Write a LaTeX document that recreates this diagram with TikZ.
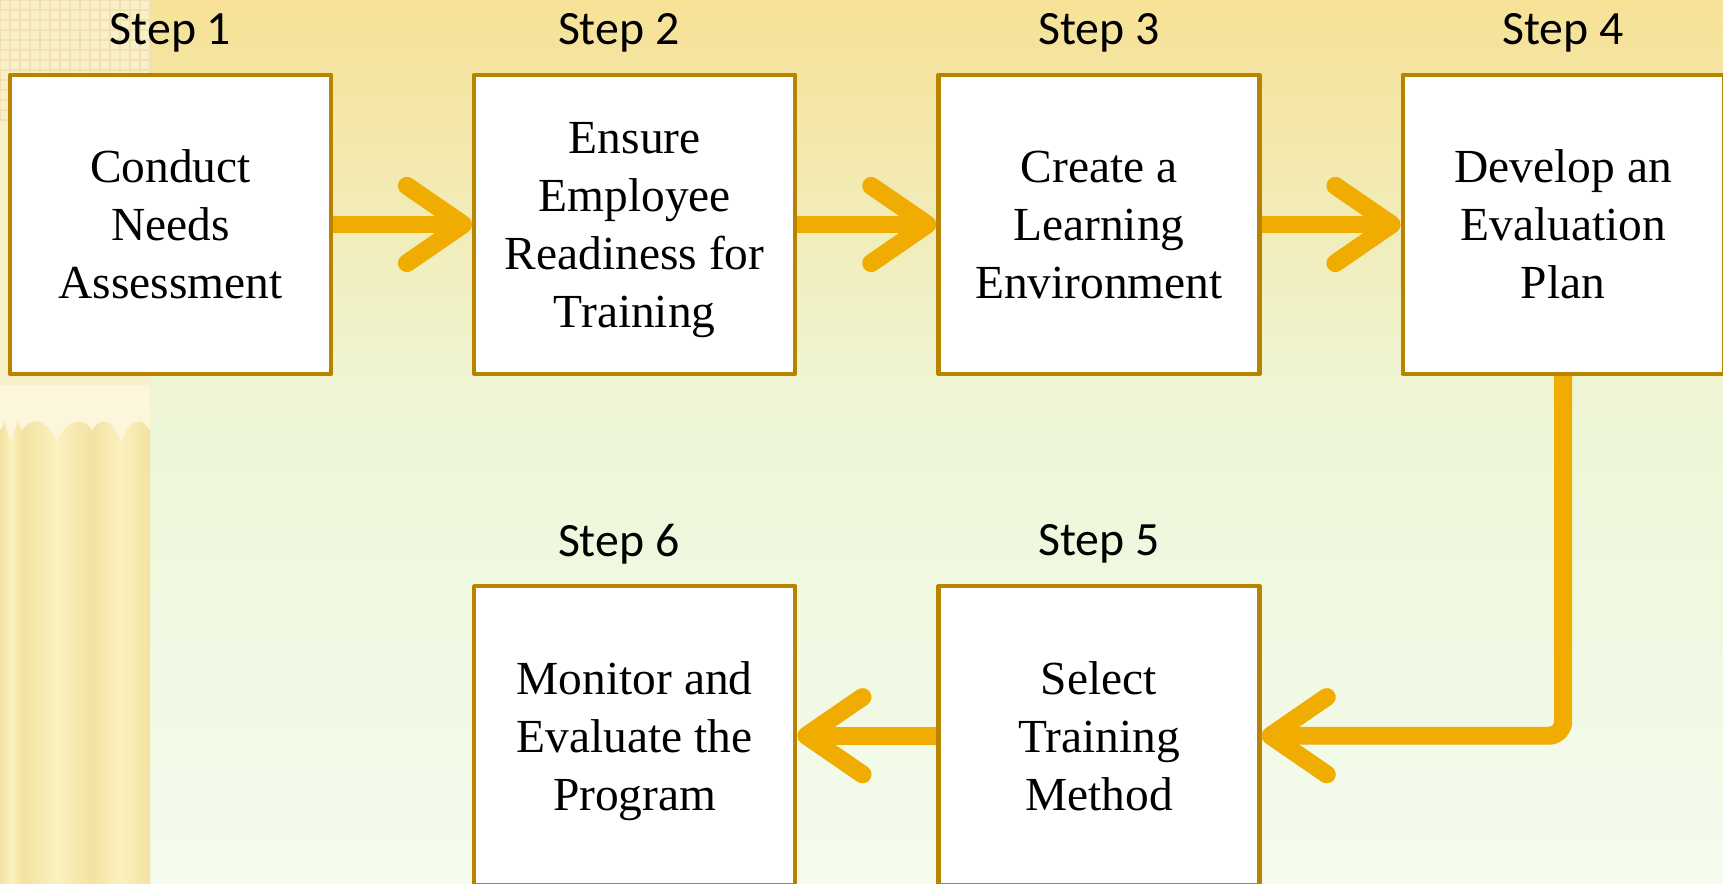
\documentclass[tikz,border=0pt]{standalone}
\usepackage{fontspec}
\setmainfont{Liberation Serif}
\newfontfamily\stepfont{Carlito}
\usetikzlibrary{positioning,arrows.meta}
\definecolor{boxline}{RGB}{184,132,0}
\definecolor{arrowcol}{RGB}{240,172,0}
\definecolor{bgtop}{RGB}{246,225,150}
\definecolor{bgmid}{RGB}{238,246,216}
\definecolor{bgbot}{RGB}{243,251,238}
\definecolor{stripbg}{RGB}{249,239,200}
\definecolor{gridcol}{RGB}{240,225,175}
\definecolor{pencil}{RGB}{243,226,160}
\definecolor{pencillight}{RGB}{251,241,192}
\definecolor{pencilwood}{RGB}{252,246,220}
\begin{document}
\begin{tikzpicture}[line join=round, >={Straight Barb[length=16pt,width=22pt,round]},
    stepbox/.style={draw=boxline, line width=1.2pt, fill=white, minimum width=3.21cm, minimum height=2.99cm,
        align=center, inner sep=0pt, text depth=0pt, font=\fontsize{13.5}{16.5}\selectfont},
    steplabel/.style={font=\stepfont\fontsize{13.6}{16}\selectfont},
    flow/.style={draw=arrowcol, line width=5.1pt, ->}]
    \def\W{17.23}\def\H{8.84}
    \useasboundingbox (0,0) rectangle (\W,-\H);
    \shade[top color=bgtop, bottom color=bgmid] (0,0) rectangle (\W,-4.2);
    \shade[top color=bgmid, bottom color=bgbot] (0,-4.2) rectangle (\W,-\H);
    \fill[stripbg] (0,0) rectangle (1.5,-4.1);
    \draw[gridcol, line width=0.3pt] (0,-1.2) grid[step=1mm] (1.5,0);
    \foreach \xa/\xb in {0/0.22,0.22/0.92,0.92/1.5}{
        \shade[left color=pencil, right color=pencil, middle color=pencillight] (\xa,-3.95) rectangle (\xb,-\H);
        \fill[pencilwood] (\xa,-3.85) -- (\xb,-3.85) -- (\xb,-4.3)
            .. controls ({\xb-0.1},-4.15) and ({(\xa+\xb)/2+0.1},-4.2) .. ({(\xa+\xb)/2},-4.4)
            .. controls ({(\xa+\xb)/2-0.1},-4.2) and ({\xa+0.1},-4.15) .. (\xa,-4.3) -- cycle;
    }
    \node[stepbox] (s1) at (1.705,-2.245) {Conduct\\Needs\\Assessment};
    \node[stepbox, right=1.39cm of s1] (s2) {Ensure\\Employee\\Readiness for\\Training};
    \node[stepbox, right=1.39cm of s2] (s3) {Create a\\Learning\\Environment};
    \node[stepbox, right=1.39cm of s3] (s4) {Develop an\\Evaluation\\Plan};
    \node[stepbox, below=2.08cm of s3] (s5) {Select\\Training\\Method};
    \node[stepbox, left=1.39cm of s5] (s6) {Monitor and\\Evaluate the\\Program};
    \foreach \n/\dx in {1/0,2/-0.16,3/0,4/0,5/0,6/-0.16}
        \node[steplabel] (l\n) at ([xshift=\dx cm, yshift=0.40cm]s\n.north) {Step \n};
    \foreach \a/\b in {s1/s2,s2/s3,s3/s4,s5/s6}
        \draw[flow] (\a) -- (\b);
    \draw[flow, rounded corners=4pt] (s4.south) |- (s5.east);
\end{tikzpicture}
\end{document}
